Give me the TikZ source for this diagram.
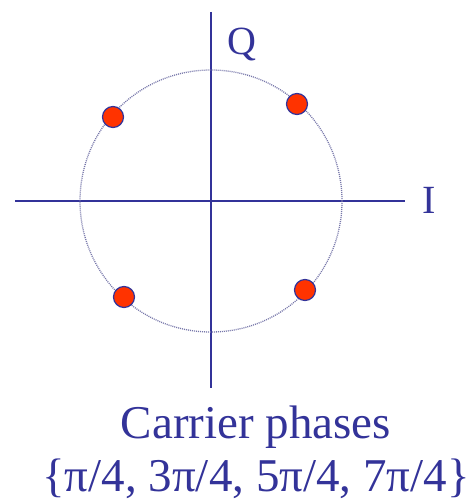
\documentclass[tikz,border=0pt]{standalone}
\usepackage{fontspec}
\setmainfont{Liberation Serif}
\definecolor{axisblue}{HTML}{333399}
\definecolor{ringblue}{HTML}{7777AA}
\definecolor{dotred}{HTML}{FF3300}

\begin{document}
\begin{tikzpicture}[x=1pt, y=-1pt,
    axis/.style={axisblue, line width=1.6pt},
    ring/.style={ringblue, line width=1.3pt, dash pattern=on 1pt off 1pt},
    phasedot/.style={circle, fill=dotred, draw=axisblue, line width=1.2pt, minimum size=21pt, inner sep=0pt},
    axlabel/.style={text=axisblue, font=\fontsize{40}{40}\selectfont, inner sep=0pt}]
        \useasboundingbox (0,0) rectangle (474,500);

        % ==== AXES ====
        \coordinate (origin) at (211,201);
        \coordinate (xleft) at (15,201);
        \coordinate (xright) at (405,201);
        \coordinate (ytop) at (211,12);
        \coordinate (ybot) at (211,388);
        \draw[axis] (xleft) -- (xright);
        \draw[axis] (ytop) -- (ybot);

        % ==== UNIT CIRCLE ====
        \draw[ring] (origin) circle[radius=131];

        % ==== CARRIER PHASES ====
        \node[phasedot] (p1) at (297,104) {};
        \node[phasedot] (p3) at (113,117) {};
        \node[phasedot] (p5) at (124,297) {};
        \node[phasedot] (p7) at (305,290) {};

        % === LABELS ===
        \node[axlabel] (qlab) at (242,45) {Q};
        \node[axlabel] (ilab) at (429,200) {I};
        \node[text=axisblue, font=\fontsize{47}{53}\selectfont, align=center, inner sep=0pt]
            (caption) at (256,452) {Carrier phases\\\{π/4, 3π/4, 5π/4, 7π/4\}};

\end{tikzpicture}
\end{document}
